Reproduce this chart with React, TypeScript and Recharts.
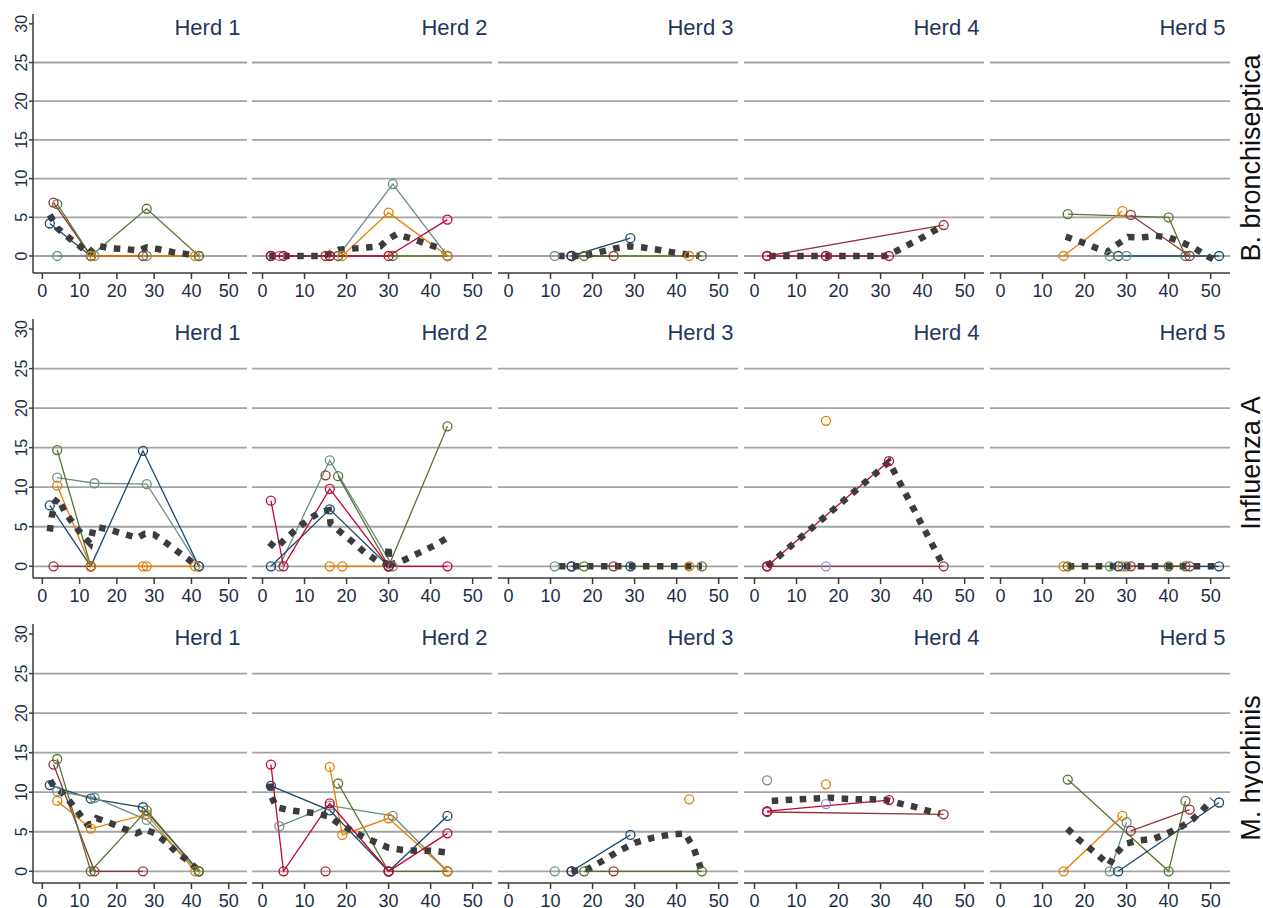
import { ComposedChart, Line, XAxis, YAxis, ReferenceLine } from 'recharts';

type Pt = [number, number];
interface Ser {
  c: string;
  p: Pt[];
}

// Stata s2color palette
const NAVY = '#1a476f';
const MAROON = '#90353b';
const GREEN = '#55752f';
const ORANGE = '#e37e00';
const TEAL = '#6e8e84';
const CRANBERRY = '#c10534';
const LAVENDER = '#938dd2';

const herds = ['Herd 1', 'Herd 2', 'Herd 3', 'Herd 4', 'Herd 5'];
const agents = ['B. bronchiseptica', 'Influenza A', 'M. hyorhinis'];
const xTicks = [0, 10, 20, 30, 40, 50];
const yTicks = [0, 5, 10, 15, 20, 25, 30];
const gridValues = [0, 5, 10, 15, 20, 25];

// ---- B. bronchiseptica ----
const bbHerd1: Ser[] = [
  { c: TEAL, p: [[4, 0], [14, 0], [28, 0], [42, 0]] },
  { c: NAVY, p: [[2, 4.2], [13, 0]] },
  { c: MAROON, p: [[3, 6.9], [13, 0], [27, 0]] },
  { c: GREEN, p: [[4, 6.7], [13, 0], [28, 6.1], [42, 0]] },
  { c: ORANGE, p: [[13, 0], [41, 0]] },
];
const bbTrend1: Pt[] = [[2, 5.3], [4, 3.6], [7, 2.4], [10, 1.3], [12.5, 0.3], [14, 1.1], [15, 1.3], [18, 1.0], [22, 0.9], [26, 0.7], [28, 1.1], [31, 0.9], [35, 0.5], [38, 0.3], [41, 0]];

const bbHerd2: Ser[] = [
  { c: NAVY, p: [[2, 0], [16, 0]] },
  { c: MAROON, p: [[15, 0]] },
  { c: TEAL, p: [[4, 0], [18, 0], [31, 9.3], [44, 0]] },
  { c: GREEN, p: [[18, 0], [31, 0], [44, 0]] },
  { c: ORANGE, p: [[19, 0], [30, 5.6], [44, 0]] },
  { c: CRANBERRY, p: [[2, 0], [5, 0], [16, 0], [30, 0], [44, 4.7]] },
];
const bbTrend2: Pt[] = [[1.6, 0], [6.3, 0], [9.9, 0], [13.2, 0], [15.5, 0.2], [18.1, 0.8], [21.4, 0.95], [24.8, 1.1], [28, 1.25], [29.9, 2.2], [31.9, 2.8], [35.1, 2.3], [38.4, 1.7], [41.6, 1.1], [43, 0.6]];

const bbHerd3: Ser[] = [
  { c: TEAL, p: [[11, 0]] },
  { c: MAROON, p: [[15, 0], [25, 0]] },
  { c: CRANBERRY, p: [[15, 0]] },
  { c: NAVY, p: [[15, 0], [29, 2.3]] },
  { c: GREEN, p: [[18, 0], [46, 0]] },
  { c: ORANGE, p: [[43, 0]] },
];
const bbTrend3: Pt[] = [[11.8, 0], [15, 0], [18, 0], [21.7, 0.5], [25, 0.95], [28.9, 1.25], [32, 1.1], [35.6, 0.8], [38.8, 0.5], [42.4, 0.2], [45.4, 0]];

const bbHerd4: Ser[] = [
  { c: MAROON, p: [[3, 0], [45, 4]] },
  { c: LAVENDER, p: [[17, 0]] },
  { c: CRANBERRY, p: [[3, 0], [17, 0], [32, 0]] },
];
const bbTrend4: Pt[] = [[3.5, 0], [31, 0], [33.8, 0.65], [37.1, 1.6], [40.3, 2.5], [44.5, 3.8]];

const bbHerd5: Ser[] = [
  { c: NAVY, p: [[28, 0], [52, 0]] },
  { c: TEAL, p: [[26, 0], [30, 0]] },
  { c: GREEN, p: [[16, 5.4], [40, 5.0], [44, 0]] },
  { c: ORANGE, p: [[15, 0], [29, 5.8]] },
  { c: MAROON, p: [[31, 5.3], [45, 0]] },
];
const bbTrend5: Pt[] = [[15.5, 2.5], [19.2, 1.8], [22.2, 1.15], [25.4, 0.5], [27.5, 1.4], [30.4, 2.45], [33.6, 2.4], [36.9, 2.6], [40.1, 2.4], [43.4, 1.7], [46.3, 0.95], [49.4, -0.1], [52, -0.8]];

// ---- Influenza A ----
const iaHerd1: Ser[] = [
  { c: MAROON, p: [[3, 0], [13, 0]] },
  { c: TEAL, p: [[4, 11.2], [14, 10.5], [28, 10.4], [42, 0]] },
  { c: GREEN, p: [[4, 14.7], [13, 0]] },
  { c: NAVY, p: [[2, 7.7], [13, 0], [27, 14.6], [42, 0]] },
  { c: ORANGE, p: [[4, 10.2], [13, 0], [27, 0], [28, 0], [41, 0]] },
];
const iaTrend1: Pt[] = [[2, 4.4], [2.5, 6.2], [3.4, 8.1], [4.3, 8.6], [6.1, 6.8], [8.3, 5.4], [10.8, 3.9], [12.8, 2.9], [13.7, 4.8], [14.6, 5.0], [18.2, 4.6], [21.7, 4.1], [25.5, 3.6], [27.5, 4.1], [30, 4.0], [33.4, 2.9], [36.5, 1.8], [39.4, 0.8], [41.4, 0]];

const iaHerd2: Ser[] = [
  { c: MAROON, p: [[15, 11.5]] },
  { c: ORANGE, p: [[16, 0], [19, 0], [30, 0]] },
  { c: TEAL, p: [[4, 0], [16, 13.4], [31, 0]] },
  { c: GREEN, p: [[18, 11.4], [30, 0], [44, 17.7]] },
  { c: NAVY, p: [[2, 0], [16, 7.2], [30, 0]] },
  { c: CRANBERRY, p: [[2, 8.3], [5, 0], [16, 9.8], [30, 0], [44, 0]] },
];
const iaTrend2: Pt[] = [[1.6, 3.0], [3.2, 2.3], [5.5, 3.5], [8.3, 4.8], [11.1, 6.0], [13.9, 6.9], [15.8, 7.1], [16.2, 5.4], [18.6, 4.3], [21.4, 3.1], [24.2, 1.8], [27, 0.8], [29.8, 0.3], [30, 2.6], [30.2, 0.2], [32.5, 0.5], [35.3, 1.2], [38.4, 2.0], [41.2, 2.7], [43.6, 3.5]];

const iaHerd3: Ser[] = [
  { c: TEAL, p: [[11, 0]] },
  { c: MAROON, p: [[15, 0], [25, 0]] },
  { c: NAVY, p: [[15, 0], [29, 0]] },
  { c: GREEN, p: [[18, 0], [46, 0]] },
  { c: ORANGE, p: [[43, 0]] },
];
const iaTrend3: Pt[] = [[12, 0], [46, 0]];

const iaHerd4: Ser[] = [
  { c: ORANGE, p: [[17, 18.4]] },
  { c: MAROON, p: [[3, 0], [45, 0]] },
  { c: LAVENDER, p: [[17, 0]] },
  { c: CRANBERRY, p: [[3, 0], [32, 13.3]] },
];
const iaTrend4: Pt[] = [[3, 0], [32, 13.2], [45, 0]];

const iaHerd5: Ser[] = [
  { c: ORANGE, p: [[15, 0], [29, 0]] },
  { c: GREEN, p: [[16, 0], [40, 0], [44, 0]] },
  { c: TEAL, p: [[26, 0], [30, 0]] },
  { c: NAVY, p: [[28, 0], [52, 0]] },
  { c: MAROON, p: [[31, 0], [45, 0]] },
];
const iaTrend5: Pt[] = [[16, 0], [52, 0]];

// ---- M. hyorhinis ----
const mhHerd1: Ser[] = [
  { c: MAROON, p: [[3, 13.5], [14, 0], [27, 0]] },
  { c: NAVY, p: [[2, 10.9], [13, 9.2], [27, 8.1], [42, 0]] },
  { c: TEAL, p: [[4, 10.1], [14, 9.3], [28, 6.5], [42, 0]] },
  { c: ORANGE, p: [[4, 8.9], [13, 5.4], [28, 7.2], [41, 0]] },
  { c: GREEN, p: [[4, 14.2], [13, 0], [28, 7.7], [42, 0]] },
];
const mhTrend1: Pt[] = [[2.1, 11.5], [3.4, 10.5], [5.2, 10], [7.4, 8.8], [9.7, 7.4], [12.1, 5.9], [13.5, 6.0], [14.6, 6.7], [18.2, 6.1], [21.7, 5.4], [25.3, 4.8], [27.5, 5.3], [30.2, 4.8], [33.4, 3.6], [36, 2.4], [38.9, 1.4], [41.4, 0.3]];

const mhHerd2: Ser[] = [
  { c: MAROON, p: [[15, 0]] },
  { c: TEAL, p: [[4, 5.7], [16, 8.3], [31, 7.0], [44, 0]] },
  { c: GREEN, p: [[18, 11.1], [30, 0], [44, 0]] },
  { c: ORANGE, p: [[16, 13.2], [19, 4.6], [30, 6.7], [44, 0]] },
  { c: NAVY, p: [[2, 10.8], [16, 7.7], [30, 0], [44, 7.0]] },
  { c: CRANBERRY, p: [[2, 13.5], [5, 0], [16, 8.6], [30, 0], [44, 4.8]] },
];
const mhTrend2: Pt[] = [[1.8, 11.1], [2, 9.6], [3.3, 8.1], [6.7, 7.7], [9.9, 7.5], [13.1, 7.3], [15.8, 6.9], [18.2, 6.0], [21, 5.2], [24.2, 4.3], [27.3, 3.6], [29.9, 3.0], [33.3, 2.7], [36.5, 2.6], [40, 2.6], [43.6, 2.4]];

const mhHerd3: Ser[] = [
  { c: TEAL, p: [[11, 0]] },
  { c: CRANBERRY, p: [[15, 0]] },
  { c: MAROON, p: [[25, 0]] },
  { c: NAVY, p: [[15, 0], [29, 4.6]] },
  { c: GREEN, p: [[18, 0], [46, 0]] },
  { c: ORANGE, p: [[43, 9.1]] },
];
const mhTrend3: Pt[] = [[15, 0], [19, 0.3], [22, 1.2], [26, 2.5], [30, 3.6], [34, 4.2], [38, 4.6], [42, 4.8], [44, 3.0], [46, 0]];

const mhHerd4: Ser[] = [
  { c: TEAL, p: [[3, 11.5]] },
  { c: ORANGE, p: [[17, 11.0]] },
  { c: LAVENDER, p: [[17, 8.5]] },
  { c: MAROON, p: [[3, 7.5], [45, 7.2]] },
  { c: CRANBERRY, p: [[3, 7.6], [32, 9.0]] },
];
const mhTrend4: Pt[] = [[4.1, 8.9], [7.3, 9.0], [10.8, 9.1], [14.2, 9.2], [17.6, 9.3], [20.7, 9.2], [24.3, 9.1], [27.6, 9.1], [31.4, 9.0], [34.4, 8.6], [37.7, 8.2], [40.9, 7.7], [44.1, 7.3]];

const mhHerd5: Ser[] = [
  { c: GREEN, p: [[16, 11.6], [40, 0], [44, 8.9]] },
  { c: ORANGE, p: [[15, 0], [29, 7.0]] },
  { c: TEAL, p: [[26, 0], [30, 6.2]] },
  { c: MAROON, p: [[31, 5.1], [45, 7.8]] },
  { c: NAVY, p: [[28, 0], [52, 8.7]] },
];
const mhTrend5: Pt[] = [[15.9, 5.4], [18.4, 4.1], [21, 3.0], [23.7, 1.8], [25.8, 0.8], [27.4, 2.2], [29.8, 3.5], [32.9, 3.9], [36.5, 4.1], [39.7, 4.8], [42.9, 5.6], [45.6, 6.5], [48, 7.7], [50.4, 9.1]];

const panelSeries: Ser[][][] = [
  [bbHerd1, bbHerd2, bbHerd3, bbHerd4, bbHerd5],
  [iaHerd1, iaHerd2, iaHerd3, iaHerd4, iaHerd5],
  [mhHerd1, mhHerd2, mhHerd3, mhHerd4, mhHerd5],
];
const panelTrends: Pt[][][] = [
  [bbTrend1, bbTrend2, bbTrend3, bbTrend4, bbTrend5],
  [iaTrend1, iaTrend2, iaTrend3, iaTrend4, iaTrend5],
  [mhTrend1, mhTrend2, mhTrend3, mhTrend4, mhTrend5],
];

// layout
const FONT = '"Liberation Sans", Arial, sans-serif';
const AXIS = '#3a3a3a';
const GRID = '#a3a3a3';
const TEXT = '#1c2b48';
const TITLE = '#1f355e';
const TREND = '#3c3c3c';
const colLeft = [33, 252, 498, 744, 990];
const colWidth = [214, 240, 240, 240, 240];
const rowTop = [14, 319, 624];
const plotH = 259;
const xAxisH = 32;
const yAxisW = 30;
const rowYDomain: [number, number][] = [[-2.2, 31.27], [-1.48, 31.27], [-1.48, 31.27]];

const toObj = (p: Pt[]) => p.map(([x, y]) => ({ x, y }));

function YTick({ y, payload }: { y?: number; payload?: { value: number } }) {
  const bx = yAxisW - 6.2;
  return (
    <text
      x={bx}
      y={y}
      transform={`rotate(-90 ${bx} ${y})`}
      textAnchor="middle"
      style={{ fontSize: 16, fontFamily: FONT }}
      fill={TEXT}
    >
      {payload?.value}
    </text>
  );
}

function Panel({ row, col }: { row: number; col: number }) {
  const yw = col === 0 ? yAxisW : 0;
  const xDom: [number, number] = col === 0 ? [-2.5, 54.9] : [-2.5, 54.6];
  const series = panelSeries[row][col];
  const trend = panelTrends[row][col];
  return (
    <div style={{ position: 'absolute', left: colLeft[col] - yw, top: rowTop[row] }}>
      <ComposedChart
        width={colWidth[col] + yw}
        height={plotH + xAxisH}
        margin={{ top: 0, right: 0, bottom: 0, left: 0 }}
      >
        <XAxis
          type="number"
          dataKey="x"
          domain={xDom}
          ticks={xTicks}
          interval={0}
          allowDataOverflow
          height={xAxisH}
          tickSize={6}
          tickMargin={5}
          axisLine={{ stroke: AXIS, strokeWidth: 1.5 }}
          tickLine={{ stroke: AXIS, strokeWidth: 1.5 }}
          tick={{ fontSize: 18, fill: TEXT, fontFamily: FONT }}
        />
        {col === 0 ? (
          <YAxis
            type="number"
            domain={rowYDomain[row]}
            ticks={yTicks}
            interval={0}
            allowDataOverflow
            width={yAxisW}
            tickSize={4}
            axisLine={{ stroke: AXIS, strokeWidth: 1.5 }}
            tickLine={{ stroke: AXIS, strokeWidth: 1.5 }}
            tick={<YTick />}
          />
        ) : (
          <YAxis type="number" domain={rowYDomain[row]} allowDataOverflow hide />
        )}
        {gridValues.map((v) => (
          <ReferenceLine key={v} y={v} stroke={GRID} strokeWidth={1.8} />
        ))}
        {series.map((s, i) => (
          <Line
            key={i}
            data={toObj(s.p)}
            dataKey="y"
            type="linear"
            stroke={s.c}
            strokeWidth={1.3}
            dot={{ r: 4.5, stroke: s.c, strokeWidth: 1.3, fill: 'none' }}
            activeDot={false}
            isAnimationActive={false}
          />
        ))}
        <Line
          data={toObj(trend)}
          dataKey="y"
          type="linear"
          stroke={TREND}
          strokeWidth={6.5}
          strokeDasharray="6.5 7.5"
          dot={false}
          activeDot={false}
          isAnimationActive={false}
        />
      </ComposedChart>
    </div>
  );
}

export default function App() {
  const rowLabelY = [158, 463, 768];
  return (
    <div style={{ position: 'absolute', left: 0, top: 0, width: 1263, height: 908, background: '#fff', overflow: 'hidden' }}>
      {agents.map((_, r) => herds.map((__, c) => <Panel key={`${r}-${c}`} row={r} col={c} />))}
      <svg width={1263} height={908} style={{ position: 'absolute', left: 0, top: 0, pointerEvents: 'none' }}>
        {agents.map((a, r) => (
          <g key={a}>
            {herds.map((h, c) => (
              <text
                key={h}
                x={colLeft[c] + colWidth[c] - (c === 0 ? 6.5 : 4.5)}
                y={rowTop[r] + 21}
                textAnchor="end"
                fontSize={22}
                fill={TITLE}
                fontFamily={FONT}
              >
                {h}
              </text>
            ))}
            <text
              x={1260}
              y={rowLabelY[r]}
              transform={`rotate(-90 1260 ${rowLabelY[r]})`}
              textAnchor="middle"
              fontSize={27}
              fill="#111"
              fontFamily={FONT}
            >
              {a}
            </text>
          </g>
        ))}
      </svg>
    </div>
  );
}
